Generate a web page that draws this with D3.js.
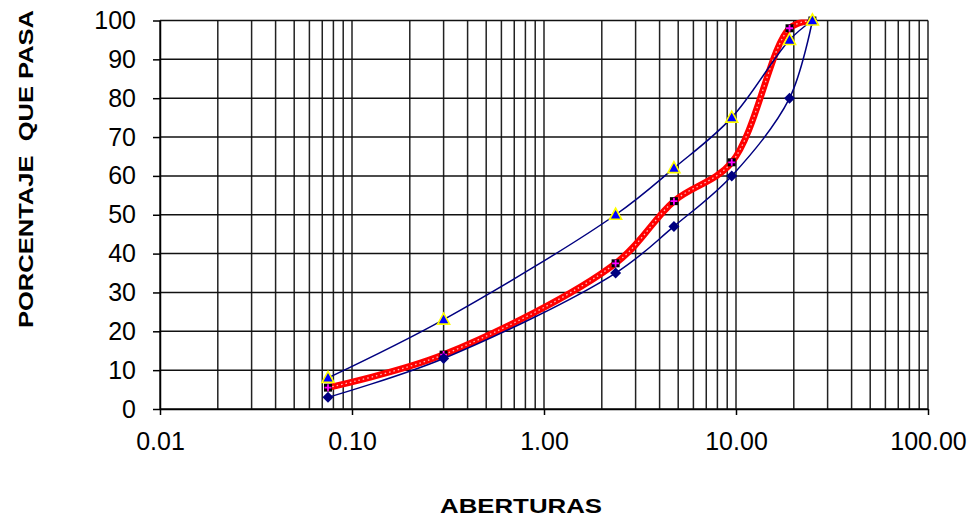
<!DOCTYPE html>
<html>
<head>
<meta charset="utf-8">
<script src="https://cdn.jsdelivr.net/npm/d3@7"></script>
<style>
  html, body { margin: 0; padding: 0; background: #fff; }
  svg { display: block; }
  text { font-family: "Liberation Sans", Arial, sans-serif; fill: #000; }
</style>
</head>
<body>
<svg id="chart" width="971" height="519"></svg>
<script>
// ---- data ----
const aberturas = [0.075, 0.3, 2.36, 4.75, 9.5, 19, 25];
const limiteInferior = [3, 13, 35, 47, 60, 80, 100];
const limiteSuperior = [8, 23, 50, 62, 75, 95, 100];
const muestra = [5.5, 14, 37.5, 53.5, 63.5, 98, 100];
const xTickValues = [0.01, 0.1, 1, 10, 100];
const xTickLabels = ["0.01", "0.10", "1.00", "10.00", "100.00"];
const yTickValues = [0, 10, 20, 30, 40, 50, 60, 70, 80, 90, 100];
const xTitle = "ABERTURAS";
const yTitle = "PORCENTAJE  QUE PASA";

// ---- layout ----
const svg = d3.select("#chart");
const pLeft = 160, pRight = 928, pTop = 20.5, pBottom = 409;

const x = d3.scaleLog().domain([0.01, 100]).range([pLeft, pRight]);
const y = d3.scaleLinear().domain([0, 100]).range([pBottom, pTop]);

svg.append("defs").append("clipPath").attr("id", "plotclip")
  .append("rect").attr("x", pLeft).attr("y", pTop - 1)
  .attr("width", pRight - pLeft).attr("height", pBottom - pTop + 1);

// gridlines
const minorX = [];
for (let e = -2; e < 2; e++) {
  for (let m = 1; m <= 9; m++) minorX.push(m * Math.pow(10, e));
}
minorX.push(100);

const grid = svg.append("g");
grid.selectAll("line.v").data(minorX).enter().append("line")
  .attr("x1", d => x(d)).attr("x2", d => x(d))
  .attr("y1", pTop).attr("y2", pBottom)
  .attr("stroke", "#222").attr("stroke-width", 1.5);
grid.selectAll("line.h").data(yTickValues).enter().append("line")
  .attr("x1", pLeft).attr("x2", pRight)
  .attr("y1", d => y(d)).attr("y2", d => y(d))
  .attr("stroke", "#111").attr("stroke-width", 1.5);

// axes
const yAxis = d3.axisLeft(y).tickValues(yTickValues).tickSize(7).tickSizeOuter(0).tickPadding(17)
  .tickFormat(d3.format("d"));
const gy = svg.append("g").attr("transform", `translate(${pLeft},0)`).call(yAxis);
gy.selectAll("text").style("font-size", "25px").style("font-family", "'Liberation Sans', Arial, sans-serif");
gy.selectAll("line, path").attr("stroke", "#000").attr("stroke-width", 1.5);

const xAxis = d3.axisBottom(x).tickValues(xTickValues).tickSize(6).tickSizeOuter(0).tickPadding(17)
  .tickFormat((d, i) => xTickLabels[i]);
const gx = svg.append("g").attr("transform", `translate(0,${pBottom})`).call(xAxis);
gx.selectAll("text").style("font-size", "25px").style("font-family", "'Liberation Sans', Arial, sans-serif");
gx.selectAll("line, path").attr("stroke", "#000").attr("stroke-width", 1.5);

// titles
svg.append("text")
  .attr("x", 521).attr("y", 513)
  .attr("text-anchor", "middle")
  .attr("textLength", 162).attr("lengthAdjust", "spacingAndGlyphs")
  .style("font-size", "21px").style("font-weight", "bold")
  .text(xTitle);
svg.append("text")
  .attr("transform", "translate(33,169) rotate(-90)")
  .attr("text-anchor", "middle")
  .attr("textLength", 318).attr("lengthAdjust", "spacingAndGlyphs")
  .style("font-size", "21px").style("font-weight", "bold")
  .style("white-space", "pre")
  .text(yTitle);

// lines
const lineGen = vals => d3.line()
  .x((d, i) => x(aberturas[i]))
  .y(d => y(d))
  .curve(d3.curveCatmullRom.alpha(0.5))(vals);

// sample (red) line
const redG = svg.append("g").attr("clip-path", "url(#plotclip)");
redG.append("path").attr("d", lineGen(muestra))
  .attr("fill", "none").attr("stroke", "#ff0000").attr("stroke-width", 6.5)
  .attr("stroke-linecap", "round").attr("stroke-linejoin", "round");
redG.append("path").attr("d", lineGen(muestra))
  .attr("fill", "none").attr("stroke", "#ffffff").attr("stroke-width", 1.3)
  .attr("stroke-opacity", 0.75).attr("stroke-dasharray", "1.5,3");

// sample markers
const sm = svg.append("g").selectAll("g").data(muestra).enter().append("g")
  .attr("transform", (d, i) => `translate(${x(aberturas[i])},${y(d)})`);
sm.append("rect").attr("x", -4).attr("y", -4).attr("width", 8).attr("height", 8).attr("fill", "#000");
sm.append("path").attr("d", "M-3.5,0H3.5M0,-3.5V3.5").attr("stroke", "#ff00ff").attr("stroke-width", 1.8);

// lower limit
svg.append("path").attr("d", lineGen(limiteInferior))
  .attr("fill", "none").attr("stroke", "#000080").attr("stroke-width", 1.5);
svg.append("g").selectAll("path").data(limiteInferior).enter().append("path")
  .attr("transform", (d, i) => `translate(${x(aberturas[i])},${y(d)})`)
  .attr("d", "M0,-5.5L5.5,0L0,5.5L-5.5,0Z")
  .attr("fill", "#000080");

// upper limit
svg.append("path").attr("d", lineGen(limiteSuperior))
  .attr("fill", "none").attr("stroke", "#000080").attr("stroke-width", 1.5);
svg.append("g").selectAll("path").data(limiteSuperior).enter().append("path")
  .attr("transform", (d, i) => `translate(${x(aberturas[i])},${y(d)})`)
  .attr("d", "M0,-6.5L6,4.5L-6,4.5Z")
  .attr("fill", "#0000ff").attr("stroke", "#ffff00").attr("stroke-width", 1.6);
</script>
</body>
</html>
